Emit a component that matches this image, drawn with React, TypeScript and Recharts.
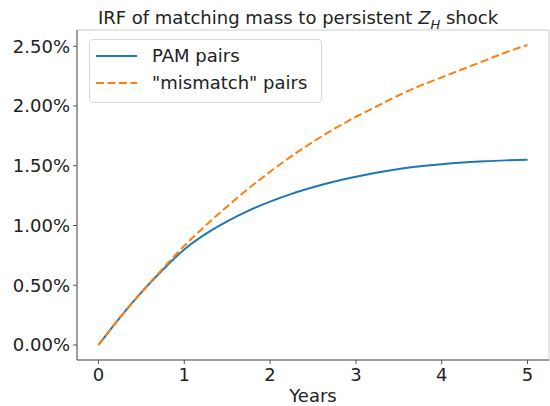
import { LineChart, Line, XAxis, YAxis, Legend, ReferenceArea } from 'recharts';

// years since shock
const years = [0, 0.25, 0.5, 0.75, 1, 1.25, 1.5, 1.75, 2, 2.25, 2.5, 2.75, 3, 3.25, 3.5, 3.75, 4, 4.25, 4.5, 4.75, 5];
// IRF, in percent
const pamPairs = [0, 0.23, 0.44, 0.63, 0.80, 0.93, 1.035, 1.125, 1.20, 1.265, 1.32, 1.368, 1.408, 1.443, 1.472, 1.495, 1.513, 1.527, 1.538, 1.545, 1.55];
const mismatchPairs = [0, 0.23, 0.44, 0.64, 0.83, 1.0, 1.16, 1.31, 1.45, 1.58, 1.70, 1.81, 1.91, 2.0, 2.09, 2.17, 2.24, 2.31, 2.38, 2.45, 2.51];

const xTicks = [0, 1, 2, 3, 4, 5];
const yTicks = [0, 0.5, 1, 1.5, 2, 2.5];

const X_DOMAIN: [number, number] = [-0.25, 5.25];
const Y_DOMAIN: [number, number] = [-0.1255, 2.636];

const BLUE = '#1f77b4';
const ORANGE = '#ff7f0e';
const FONT = "'DejaVu Sans', sans-serif";

const data = years.map((t, i) => ({
  t,
  pam: pamPairs[i],
  mismatch: mismatchPairs[i],
}));

function LegendBox() {
  const row = (label: string, color: string, dash?: string) => (
    <div style={{ display: 'flex', alignItems: 'center', height: 27 }}>
      <svg width={42} height={10} style={{ marginLeft: 6, marginRight: 14 }}>
        <line x1={0} y1={5} x2={41} y2={5} stroke={color} strokeWidth={2} strokeDasharray={dash} />
      </svg>
      <span>{label}</span>
    </div>
  );
  return (
    <div
      style={{
        fontFamily: FONT,
        fontSize: 18,
        color: '#222',
        background: 'rgba(255,255,255,0.8)',
        border: '1px solid #d9d9d9',
        borderRadius: 4,
        padding: '2px 14px 6px 0',
        lineHeight: '18px',
      }}
    >
      {row('PAM pairs', BLUE)}
      {row('"mismatch" pairs', ORANGE, '8 3.5')}
    </div>
  );
}

export default function App() {
  return (
    <div style={{ position: 'absolute', left: 0, top: 0, width: 550, height: 406, background: '#fff' }}>
      <div
        style={{
          position: 'absolute',
          left: 62,
          width: 472,
          top: 9,
          textAlign: 'center',
          fontFamily: FONT,
          fontSize: 18,
          lineHeight: '18px',
          color: '#222',
          whiteSpace: 'nowrap',
        }}
      >
        IRF of matching mass to persistent <i>Z</i>
        <sub style={{ fontSize: 13, lineHeight: 0, fontStyle: 'italic' }}>H</sub> shock
      </div>
      <LineChart width={550} height={406} data={data} margin={{ top: 30, right: 1, left: 0, bottom: 0 }}>
        <ReferenceArea
          x1={X_DOMAIN[0]}
          x2={X_DOMAIN[1]}
          y1={Y_DOMAIN[0]}
          y2={Y_DOMAIN[1]}
          fill="none"
          stroke="#cfcfcf"
          strokeWidth={1}
          ifOverflow="visible"
        />
        <XAxis
          dataKey="t"
          type="number"
          domain={X_DOMAIN}
          ticks={xTicks}
          allowDataOverflow
          height={46}
          tickSize={4}
          tickMargin={4}
          stroke="#555"
          tick={{ fill: '#222', fontSize: 18, fontFamily: FONT }}
          label={{ value: 'Years', position: 'insideBottom', offset: 4, fill: '#222', fontSize: 18, fontFamily: FONT }}
        />
        <YAxis
          type="number"
          domain={Y_DOMAIN}
          ticks={yTicks}
          allowDataOverflow
          width={77}
          tickSize={4}
          tickMargin={3}
          stroke="#555"
          tickFormatter={(v: number) => `${v.toFixed(2)}%`}
          tick={{ fill: '#222', fontSize: 18, fontFamily: FONT }}
        />
        <Legend
          layout="horizontal"
          verticalAlign="middle"
          align="center"
          wrapperStyle={{ left: 89, top: 39, width: 'auto' }}
          content={() => <LegendBox />}
        />
        <Line
          type="monotone"
          dataKey="pam"
          name="PAM pairs"
          stroke={BLUE}
          strokeWidth={2}
          dot={false}
          isAnimationActive={false}
        />
        <Line
          type="monotone"
          dataKey="mismatch"
          name='"mismatch" pairs'
          stroke={ORANGE}
          strokeWidth={2}
          strokeDasharray="8 3.5"
          dot={false}
          isAnimationActive={false}
        />
      </LineChart>
    </div>
  );
}
